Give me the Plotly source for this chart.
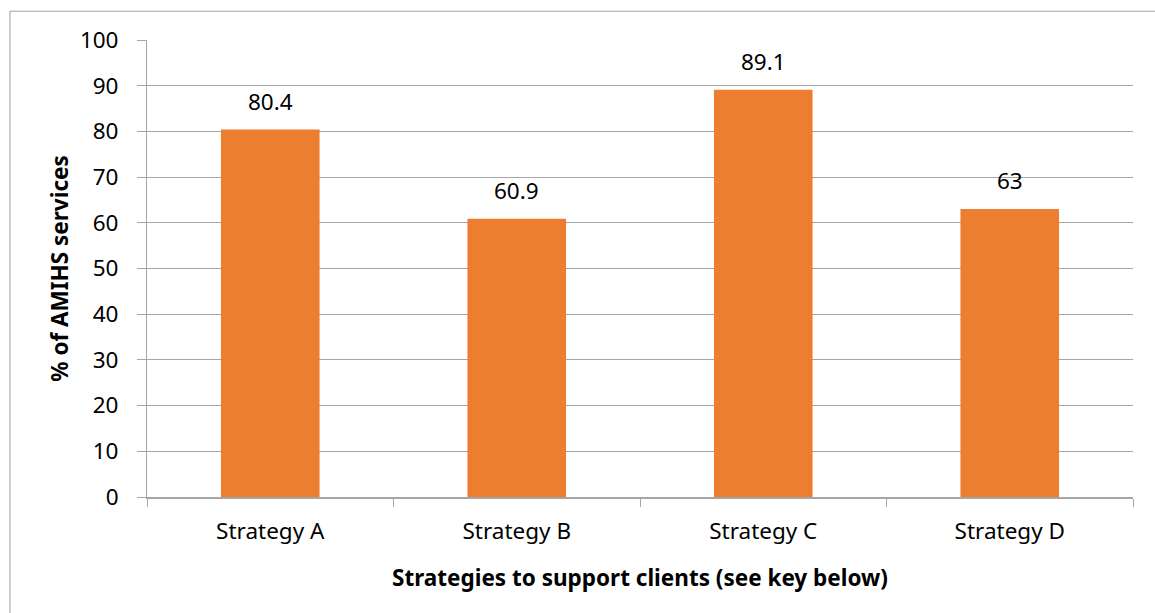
import plotly.graph_objects as go

# Share of AMIHS services using each strategy
categories = ["Strategy A", "Strategy B", "Strategy C", "Strategy D"]
values = [80.4, 60.9, 89.1, 63]
value_labels = ["80.4", "60.9", "89.1", "63"]

BAR_COLOR = "#ED7D31"
GRID_COLOR = "#A6A6A6"
FONT = "Noto Sans"
FS = 22.5

fig = go.Figure(
    go.Bar(
        x=categories,
        y=values,
        marker=dict(color=BAR_COLOR, line=dict(width=0)),
        width=0.4,
        hoverinfo="x+y",
    )
)

# value labels above each bar
for cat, val, lab in zip(categories, values, value_labels):
    fig.add_annotation(
        x=cat, y=val, text=lab, showarrow=False,
        yanchor="bottom", yshift=11,
        font=dict(family=FONT, size=FS, color="#000000"),
    )

# light frame around the chart
fig.add_shape(
    type="rect", xref="paper", yref="paper",
    x0=-0.139, x1=1.2, y0=-0.6, y1=1.063,
    line=dict(color="#A0A0A0", width=1), fillcolor="rgba(0,0,0,0)",
    layer="below",
)

fig.update_layout(
    width=1155, height=613,
    margin=dict(l=147, r=22, t=40, b=116),
    paper_bgcolor="white", plot_bgcolor="white",
    showlegend=False,
    font=dict(family=FONT, size=FS, color="#000000"),
    bargap=0.6,
)

fig.update_xaxes(
    type="category",
    showgrid=False,
    showline=True, linecolor=GRID_COLOR, linewidth=1.5,
    ticks="outside", tickson="boundaries", ticklen=8, tickcolor=GRID_COLOR,
    ticklabelstandoff=13,
    tickfont=dict(family=FONT, size=FS),
    title=dict(text="<b>Strategies to support clients (see key below)</b>",
               font=dict(family=FONT, size=FS), standoff=25),
)

fig.update_yaxes(
    range=[0, 100], dtick=10,
    showgrid=True, gridcolor=GRID_COLOR, gridwidth=1,
    showline=True, linecolor=GRID_COLOR, linewidth=1,
    ticks="outside", ticklen=9, tickcolor=GRID_COLOR,
    ticklabelstandoff=14,
    zeroline=False,
    tickfont=dict(family=FONT, size=FS),
    title=dict(text="<b>% of AMIHS services</b>",
               font=dict(family=FONT, size=FS), standoff=5),
)

fig.write_html("out.html")
